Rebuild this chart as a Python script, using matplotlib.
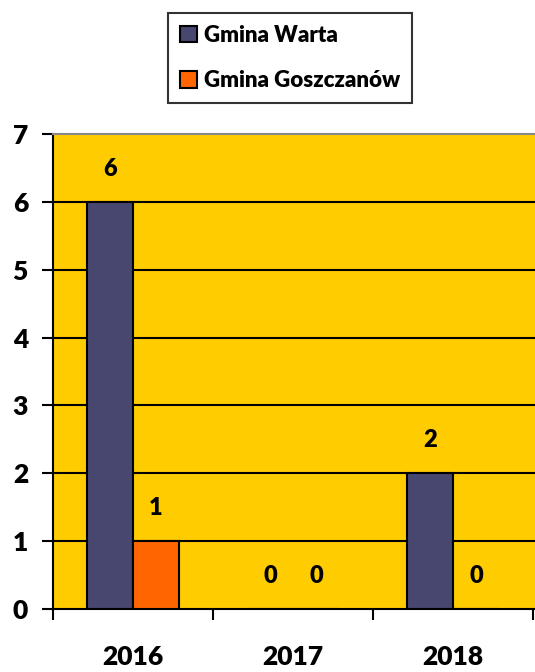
import numpy as np
import matplotlib
matplotlib.use("Agg")
from matplotlib import pyplot as plt
from matplotlib.patches import Patch

years = ["2016", "2017", "2018"]
warta = [6, 0, 2]
goszczanow = [1, 0, 0]
series_names = ["Gmina Warta", "Gmina Goszczanów"]

navy = "#47476F"
orange = "#FF6600"
yellow = "#FFCC00"

plt.rcParams['font.family'] = ['Lato', 'DejaVu Sans']
plt.rcParams['font.weight'] = 'heavy'

fig = plt.figure(figsize=(5.35, 6.72), dpi=100)
ax = fig.add_axes([53 / 535, 63 / 672, 482 / 535, 475 / 672])
ax.set_facecolor(yellow)

x = np.arange(len(years))
w = 0.2875
b1 = ax.bar(x - w / 2, warta, w, color=navy, edgecolor="black", linewidth=1.5, zorder=3)
b2 = ax.bar(x + w / 2, goszczanow, w, color=orange, edgecolor="black", linewidth=1.5, zorder=3)

for bars, vals in ((b1, warta), (b2, goszczanow)):
    for bar, v in zip(bars, vals):
        ax.annotate(str(v), (bar.get_x() + bar.get_width() / 2, v),
                    xytext=(0, 24), textcoords="offset points",
                    ha="center", va="center", fontsize=17, fontweight="heavy")

ax.set_ylim(0, 7)
ax.set_xlim(-0.5, 2.5 + 2 / 160)
ax.set_yticks(range(8))
for y in range(1, 7):
    ax.axhline(y, color="black", linewidth=1.5, zorder=1)

ax.set_xticks([-0.5, 0.5, 1.5, 2.5])
ax.set_xticklabels([])
ax.set_xticks(x, minor=True)
ax.set_xticklabels(years, minor=True)
ax.tick_params(axis="x", which="major", length=8, width=1.5, direction="out")
ax.tick_params(axis="x", which="minor", length=0, pad=26, labelsize=19)
ax.tick_params(axis="y", length=8, width=1.5, pad=10, labelsize=19)
for t in ax.get_xticklabels(minor=True) + ax.get_yticklabels():
    t.set_fontweight("heavy")

ax.spines["right"].set_visible(False)
ax.spines["top"].set_color("#888888")
ax.spines["top"].set_linewidth(1.5)
ax.spines["left"].set_linewidth(1.5)
ax.spines["bottom"].set_linewidth(1.5)

handles = [Patch(facecolor=navy, edgecolor="black", linewidth=1.5),
           Patch(facecolor=orange, edgecolor="black", linewidth=1.5)]
leg = fig.legend(handles, series_names, loc="center",
                 bbox_to_anchor=(290 / 535, 1 - 58 / 672),
                 fontsize=16, frameon=True, fancybox=False,
                 handlelength=0.75, handleheight=0.75, handletextpad=0.3,
                 labelspacing=1.1, borderpad=0.55, borderaxespad=0)
leg.get_frame().set_edgecolor("black")
leg.get_frame().set_linewidth(1.5)
for t in leg.get_texts():
    t.set_fontweight("heavy")

fig.savefig("out.png", dpi=100)
